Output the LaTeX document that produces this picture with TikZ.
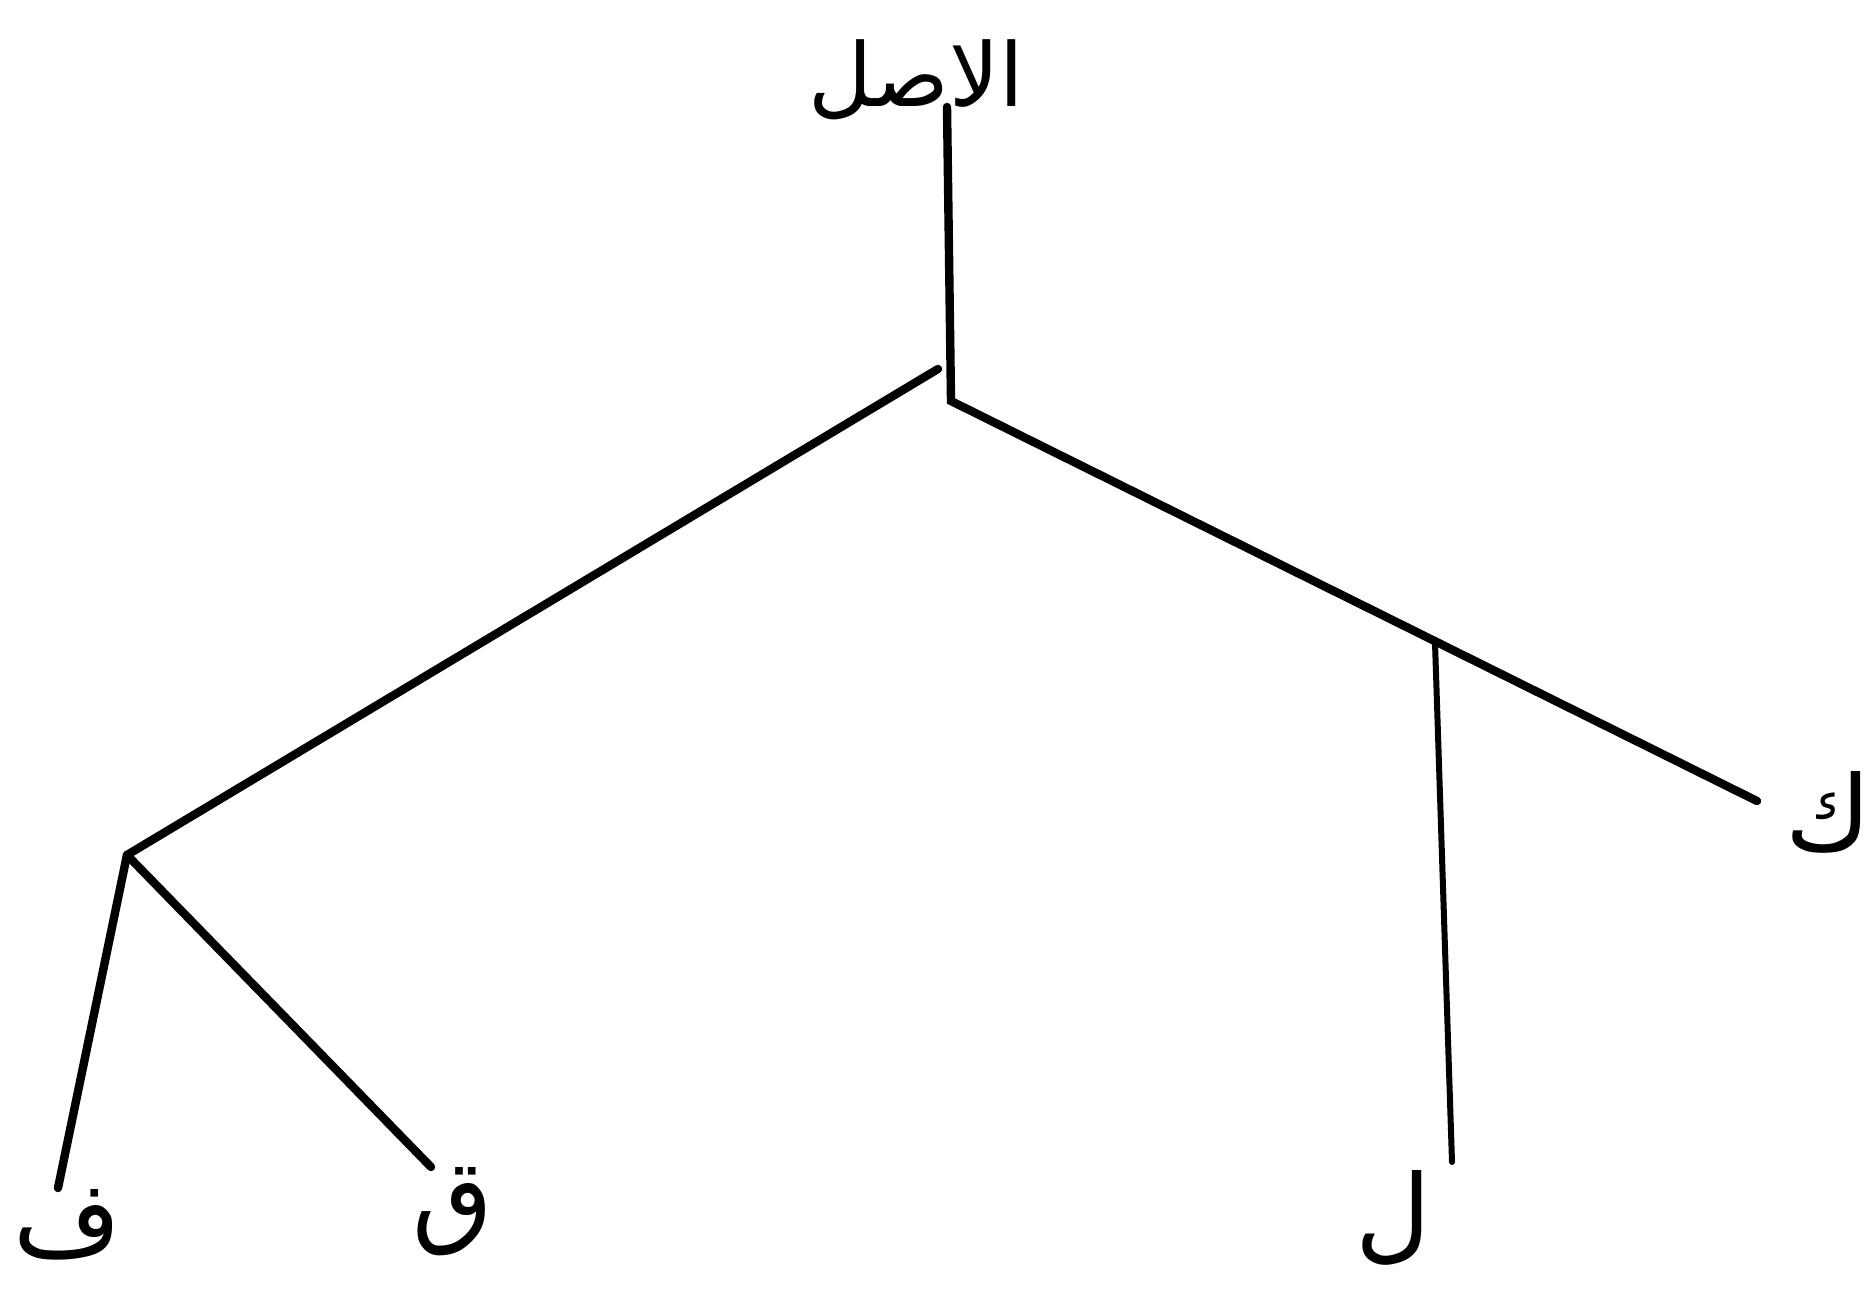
\documentclass[tikz,border=0pt]{standalone}
\usepackage{fontspec}
\newfontfamily\arabicfont[Script=Arabic]{DejaVu Sans}
\TeXXeTstate=1
\begin{document}
\begin{tikzpicture}[x=0.5pt,y=-0.5pt,
  branch/.style={line width=4.2pt,line cap=round},
  lbl/.style={font=\arabicfont\fontsize{52}{60}\selectfont,inner sep=0pt}]
\useasboundingbox (0,0) rectangle (1868,1293);
% labels
\node[lbl,font=\arabicfont\fontsize{44}{52}\selectfont] (root) at (916,80) {\beginR الاصل\endR};
\node[lbl] (fa) at (67,1225) {\beginR ف\endR};
\node[lbl] (qaf) at (453,1212) {\beginR ق\endR};
\node[lbl] (lam) at (1393,1218) {\beginR ل\endR};
\node[lbl] (kaf) at (1828,812) {\beginR ك\endR};
% junctions and free ends
\coordinate (top) at (947,107);
\coordinate (j0) at (951,401);
\coordinate (l0) at (938,369);
\coordinate (jl) at (127,855);
\coordinate (jr) at (1435,643);
\coordinate (kend) at (1757,801);
\coordinate (fend) at (58,1188);
\coordinate (qend) at (431,1167);
\coordinate (lend) at (1452,1162);
% connectors
\draw[branch] (top) -- (j0) -- (kend);
\draw[branch] (l0) -- (jl);
\draw[branch] (jl) -- (fend);
\draw[branch] (jl) -- (qend);
\draw[branch,line width=3pt] (jr) -- (lend);
\end{tikzpicture}
\end{document}
